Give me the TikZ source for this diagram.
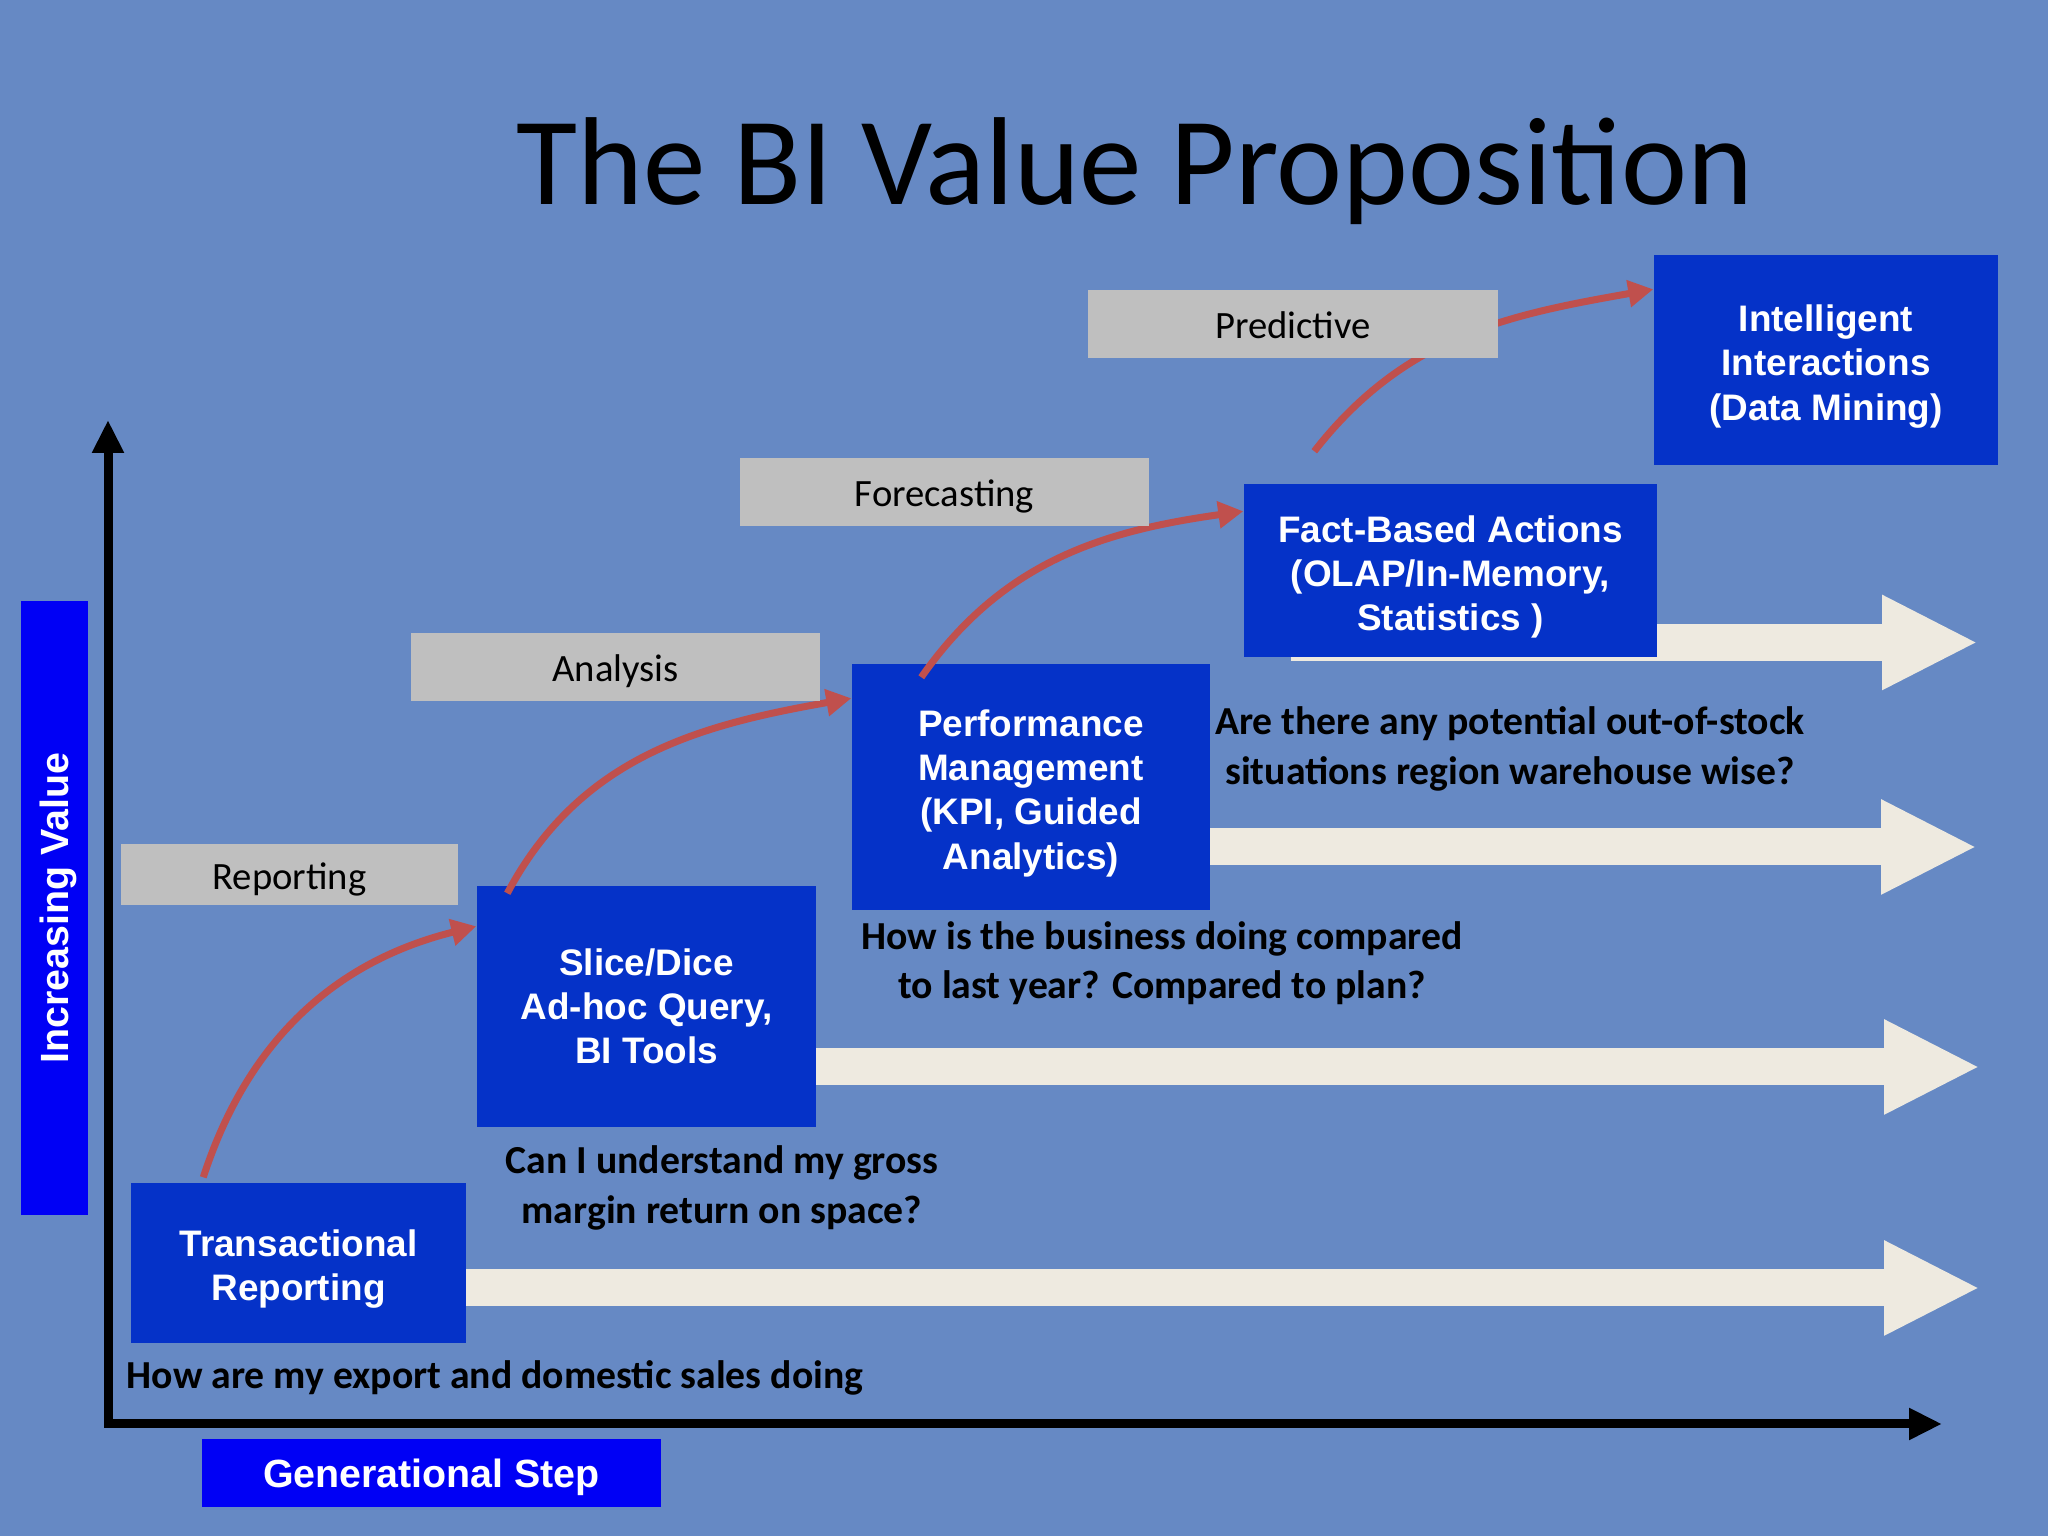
\documentclass[tikz,border=0pt]{standalone}
\usepackage{fontspec}
\setmainfont{Carlito}
\newfontfamily\arialfont{Liberation Sans}
\usetikzlibrary{arrows.meta, positioning, calc, backgrounds}
\definecolor{clothblue}{RGB}{102,137,196}
\definecolor{stepblue}{RGB}{5,50,200}
\definecolor{tagblue}{RGB}{0,0,245}
\definecolor{levelgray}{RGB}{191,191,191}
\definecolor{flowcream}{RGB}{238,234,224}
\definecolor{curvered}{RGB}{192,80,77}
\newcommand{\topgap}{\rule{0pt}{11.2pt}}

\tikzset{
  stepbox/.style={fill=stepblue, text=white, align=center, inner sep=0pt,
                  font=\arialfont\bfseries\fontsize{10.5}{12.6}\selectfont},
  levelbox/.style={fill=levelgray, text=black, inner sep=0pt,
                   text height=0.85em, text depth=0pt,
                   font=\fontsize{11}{13}\selectfont},
  tagbox/.style={fill=tagblue, text=white, inner sep=0pt,
                 text height=0.8em, text depth=0pt,
                 font=\arialfont\bfseries\fontsize{11.2}{13}\selectfont},
  question/.style={align=center, inner sep=0pt,
                   font=\bfseries\fontsize{11.3}{14}\selectfont},
  flow/.style={flowcream, line width=0.37cm, -{Triangle[length=0.96cm,width=0.88cm]}},
  growth/.style={curvered, line width=0.07cm, -{Triangle[length=0.25cm,width=0.26cm]}},
  axis/.style={black, line width=0.09cm, line join=miter,
               {Triangle[length=0.33cm,width=0.3cm]}-{Triangle[length=0.33cm,width=0.3cm]}},
}

\begin{document}
\begin{tikzpicture}
    % title
    \node[font=\fontsize{35.6}{42}\selectfont, anchor=base] (title) at (11.35,13.31) {The BI Value Proposition};

    % axes
    \coordinate (orig) at (1.08,1.12);
    \coordinate (ytop) at (1.08,11.16);
    \coordinate (xend) at (19.42,1.12);
    \draw[axis] (ytop) -- (orig) -- (xend);
    \node[tagbox, rotate=90, minimum width=6.14cm, minimum height=0.67cm] (incr) at (0.545,6.28) {Increasing Value};
    \node[tagbox, minimum width=4.59cm, minimum height=0.68cm] (gen) at (4.315,0.63) {Generational Step};

    % the five steps
    \node[stepbox, minimum width=3.35cm, minimum height=1.60cm] (trans) at (2.985,2.73) {\topgap Transactional\\Reporting};
    \node[stepbox, minimum width=3.39cm, minimum height=2.41cm] (slice) at (6.465,5.295) {Slice/Dice\\Ad-hoc Query,\\BI Tools};
    \node[stepbox, minimum width=3.58cm, minimum height=2.46cm] (perf) at (10.31,7.49) {\topgap Performance\\Management\\(KPI, Guided\\Analytics)};
    \node[stepbox, minimum width=4.13cm, minimum height=1.73cm] (fact) at (14.505,9.655) {\topgap Fact-Based Actions\\(OLAP/In-Memory,\\Statistics )};
    \node[stepbox, minimum width=3.44cm, minimum height=2.10cm] (intel) at (18.26,11.76) {\topgap Intelligent\\Interactions\\(Data Mining)};

    % flat arrows running right
    \coordinate (tip1) at (19.80,2.48);
    \coordinate (tip2) at (19.80,4.69);
    \coordinate (tip3) at (19.77,6.89);
    \coordinate (tip4) at (19.78,8.935);
    \begin{scope}[on background layer]
        \fill[clothblue] (0,0) rectangle (20.48,15.36);
        \draw[flow] (trans.center |- tip1) -- (tip1);
        \draw[flow] (slice.center |- tip2) -- (tip2);
        \draw[flow] (perf.center |- tip3) -- (tip3);
        \draw[flow] ($(fact.west |- tip4)+(0.48,0)$) -- (tip4);
    \end{scope}

    % curved arrows between steps
    \draw[growth] ([xshift=0.73cm,yshift=0.05cm]trans.north west) to[out=72,in=194] ([yshift=-0.41cm]slice.north west);
    \draw[growth] ([xshift=0.31cm,yshift=-0.08cm]slice.north west) to[out=62,in=190] ([yshift=-0.35cm]perf.north west);
    \draw[growth] ([xshift=0.70cm,yshift=-0.14cm]perf.north west) to[out=55,in=188] ([yshift=-0.28cm]fact.north west);
    \draw[growth] ([xshift=0.71cm,yshift=0.32cm]fact.north west) to[out=52,in=190] ([yshift=-0.35cm]intel.north west);

    % levels
    \node[levelbox, minimum width=3.37cm, minimum height=0.61cm] (report) at (2.895,6.615) {Reporting};
    \node[levelbox, minimum width=4.09cm, minimum height=0.68cm] (analysis) at (6.155,8.69) {Analysis};
    \node[levelbox, minimum width=4.09cm, minimum height=0.68cm] (forecast) at (9.445,10.44) {Forecasting};
    \node[levelbox, minimum width=4.10cm, minimum height=0.68cm] (predict) at (12.93,12.12) {Predictive};

    % questions
    \node[question, anchor=base west] (q1) at (1.26,1.47) {How are my export and domestic sales doing};
    \node[question] (q2) at (7.22,3.48) {Can I understand my gross\\margin return on space?};
    \node[question] (q3) at (11.62,5.73) {How is the business doing compared\\to last year? Compared to plan?};
    \node[question] (q4) at (15.10,7.87) {Are there any potential out-of-stock\\situations region warehouse wise?};
\end{tikzpicture}
\end{document}
